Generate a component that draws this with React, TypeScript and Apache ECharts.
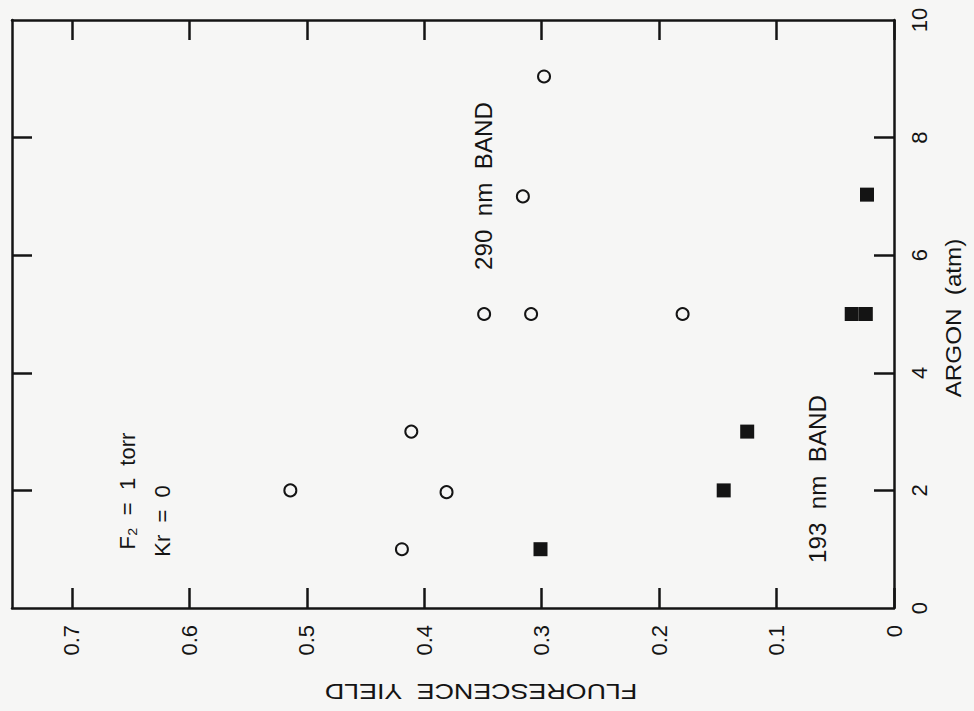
import React, { useEffect, useRef } from "react";
import * as echarts from "echarts";

// Fluorescence yield (x, drawn right-to-left) vs argon pressure in atm (y)
const band290: number[][] = [
  [0.419, 1.0],
  [0.514, 2.0],
  [0.381, 1.97],
  [0.411, 3.0],
  [0.349, 5.0],
  [0.309, 5.0],
  [0.18, 5.0],
  [0.316, 7.0],
  [0.298, 9.04],
];
const band193: number[][] = [
  [0.301, 1.0],
  [0.145, 2.0],
  [0.125, 3.0],
  [0.036, 5.0],
  [0.024, 5.0],
  [0.023, 7.03],
];
const yieldTicks = [0, 0.1, 0.2, 0.3, 0.4, 0.5, 0.6, 0.7];
const argonLabels = [0, 2, 4, 6, 8, 10];
const argonTicks = [2, 4, 6, 8];

const INK = "#141414";
const BG = "#f6f6f5";
const FONT = "Liberation Sans, Arial, sans-serif";

export default function App() {
  const ref = useRef<HTMLDivElement>(null);
  useEffect(() => {
    if (!ref.current) return;
    const chart = echarts.init(ref.current, null, { renderer: "svg" });
    const line = { show: true, onZero: false, lineStyle: { color: INK, width: 2.5 } };
    const tick = (vals: number[]) => ({
      show: true,
      inside: true,
      length: 20,
      customValues: vals,
      lineStyle: { color: INK, width: 2.5 },
    });
    const txt = (
      text: string,
      x: number,
      y: number,
      rotation: number,
      scaleX: number,
      fontSize = 22
    ) => ({
      type: "text",
      x,
      y,
      rotation,
      scaleX,
      style: {
        text,
        fontSize,
        fontFamily: FONT,
        fill: INK,
        align: "center",
        verticalAlign: "middle",
        textAlign: "center",
        textVerticalAlign: "middle",
      },
    });
    chart.setOption({
      animation: false,
      backgroundColor: BG,
      grid: { left: 12, right: 80, top: 20, bottom: 103 },
      xAxis: [
        {
          type: "value",
          position: "bottom",
          inverse: true,
          min: 0,
          max: 0.751,
          axisLine: line,
          axisTick: tick(yieldTicks),
          splitLine: { show: false },
          axisLabel: {
            customValues: yieldTicks,
            rotate: 90,
            margin: 17,
            fontSize: 22,
            fontFamily: FONT,
            color: INK,
            formatter: (v: number) => (v === 0 ? "0" : v.toFixed(1)),
          },
        },
        {
          type: "value",
          position: "top",
          inverse: true,
          min: 0,
          max: 0.751,
          axisLine: line,
          axisTick: tick(yieldTicks),
          splitLine: { show: false },
          axisLabel: { show: false },
        },
      ],
      yAxis: [
        {
          type: "value",
          position: "right",
          min: 0,
          max: 10,
          axisLine: line,
          axisTick: tick(argonTicks),
          splitLine: { show: false },
          axisLabel: {
            customValues: argonLabels,
            rotate: 90,
            margin: 14,
            fontSize: 22,
            fontFamily: FONT,
            color: INK,
          },
        },
        {
          type: "value",
          position: "left",
          min: 0,
          max: 10,
          axisLine: line,
          axisTick: tick(argonTicks),
          splitLine: { show: false },
          axisLabel: { show: false },
        },
      ],
      graphic: [
        txt("FLUORESCENCE  YIELD", 481, 692, Math.PI, 1.22),
        txt("ARGON  (atm)", 953, 318, Math.PI / 2, 1.1),
        txt("F₂  =  1  torr", 127, 491, Math.PI / 2, 1.0),
        txt("Kr  =  0", 162, 521, Math.PI / 2, 1.0),
        txt("290  nm  BAND", 484, 186, Math.PI / 2, 1.05, 23),
        txt("193  nm  BAND", 818, 479, Math.PI / 2, 1.05, 23),
      ],
      series: [
        {
          name: "290 nm BAND",
          type: "scatter",
          xAxisIndex: 0,
          yAxisIndex: 0,
          data: band290,
          symbol: "circle",
          symbolSize: 12,
          itemStyle: { color: BG, borderColor: INK, borderWidth: 2, opacity: 1 },
        },
        {
          name: "193 nm BAND",
          type: "scatter",
          xAxisIndex: 0,
          yAxisIndex: 0,
          data: band193,
          symbol: "rect",
          symbolSize: 14,
          itemStyle: { color: INK, opacity: 1 },
        },
      ],
    });
    return () => chart.dispose();
  }, []);
  return (
    <div
      ref={ref}
      style={{ position: "absolute", left: 0, top: 0, width: 974, height: 711 }}
    />
  );
}
